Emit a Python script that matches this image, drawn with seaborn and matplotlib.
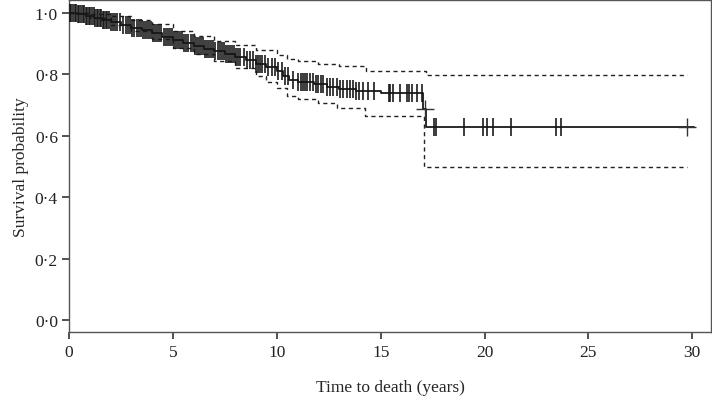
import numpy as np
import pandas as pd
import matplotlib
matplotlib.use("Agg")
import matplotlib.pyplot as plt
import seaborn as sns

# ---- data ----
km_times = [0, 0.4, 0.8, 1.2, 1.6, 2.0, 2.5, 3.0, 3.5, 4.0, 4.5, 5.0, 5.5, 6.0, 6.5,
            7.0, 7.5, 8.0, 8.5, 9.0, 9.5, 10.0, 10.3, 10.6, 11.0, 11.8, 12.4, 13.0,
            13.8, 15.0, 17.05, 17.2, 30.1]
km_surv = [1.0, 0.995, 0.99, 0.983, 0.977, 0.97, 0.962, 0.952, 0.943, 0.933, 0.923,
           0.912, 0.902, 0.893, 0.884, 0.875, 0.866, 0.857, 0.846, 0.835, 0.823, 0.81,
           0.795, 0.782, 0.776, 0.768, 0.76, 0.752, 0.745, 0.738, 0.688, 0.630, 0.630]

upper_times = [0, 1, 2, 3, 4, 5, 6, 7, 8, 9, 10, 10.5, 11, 12, 13, 14.3, 17.2, 29.75]
upper_vals = [1.0, 0.998, 0.99, 0.978, 0.963, 0.942, 0.925, 0.91, 0.895, 0.878, 0.862,
              0.85, 0.842, 0.835, 0.826, 0.81, 0.798, 0.798]

lower_times = [0, 1, 2, 3, 4, 5, 6, 7, 8, 9, 9.5, 10, 10.5, 11, 12, 12.9, 14.25, 17.1, 29.75]
lower_vals = [1.0, 0.985, 0.96, 0.94, 0.915, 0.887, 0.865, 0.845, 0.82, 0.795, 0.776,
              0.755, 0.73, 0.72, 0.707, 0.69, 0.665, 0.497, 0.497]

censor_times = [0.05, 0.12, 0.2, 0.28, 0.35, 0.42, 0.5, 0.58, 0.65, 0.72, 0.8, 0.88, 0.95,
                1.02, 1.1, 1.18, 1.25, 1.33, 1.4, 1.48, 1.55, 1.62, 1.7, 1.78, 1.85, 1.92,
                2.0, 2.1, 2.2, 2.3, 2.45, 2.6, 2.75, 2.85, 2.95, 3.05, 3.15, 3.25, 3.35,
                3.45, 3.55, 3.65, 3.75, 3.85, 3.95, 4.05, 4.15, 4.25, 4.35, 4.45, 4.55,
                4.65, 4.75, 4.85, 4.95, 5.05, 5.15, 5.25, 5.35, 5.45, 5.55, 5.65, 5.75,
                5.85, 5.95, 6.05, 6.15, 6.25, 6.35, 6.45, 6.55, 6.65, 6.75, 6.85, 6.95,
                7.05, 7.15, 7.25, 7.35, 7.45, 7.55, 7.65, 7.75, 7.85, 7.95, 8.05, 8.15,
                8.25, 8.4, 8.55, 8.7, 8.85, 9.0, 9.1, 9.2, 9.3, 9.45, 9.6, 9.75, 9.9,
                10.05, 10.24, 10.4, 10.56, 10.8, 11.04, 11.16, 11.25, 11.36, 11.47, 11.6,
                11.76, 11.89, 12.0, 12.12, 12.24, 12.4, 12.57, 12.73, 12.89, 13.05, 13.2,
                13.37, 13.53, 13.66, 13.82, 13.98, 14.14, 14.41, 14.69, 15.38, 15.46,
                15.59, 15.94, 16.29, 16.38, 16.5, 16.74, 16.98, 17.55, 17.64, 19.02,
                19.92, 20.14, 20.43, 21.27, 23.45, 23.70]
plus_times = [17.12, 29.75]

x_ticks = [0, 5, 10, 15, 20, 25, 30]
y_ticks = [0.0, 0.2, 0.4, 0.6, 0.8, 1.0]
y_tick_labels = ["0·0", "0·2", "0·4", "0·6", "0·8", "1·0"]

# ---- style ----
sns.set_style("ticks")
plt.rcParams.update({
    "font.family": ["Liberation Serif", "DejaVu Serif"],
    "font.size": 12.5,
})

fig = plt.figure(figsize=(7.12, 4.02), dpi=100)
ax = fig.add_axes([69 / 712, 69 / 402, 642 / 712, 332 / 402])

km_t = np.array(km_times)
km_s = np.array(km_surv)

def surv_at(t):
    idx = np.searchsorted(km_t, t, side="right") - 1
    return km_s[idx]

df_km = pd.DataFrame({"t": km_times, "s": km_surv})
df_up = pd.DataFrame({"t": upper_times, "s": upper_vals})
df_lo = pd.DataFrame({"t": lower_times, "s": lower_vals})

sns.lineplot(data=df_up, x="t", y="s", ax=ax, drawstyle="steps-post", color="#222222",
             linewidth=1.0, linestyle=(0, (3, 2.5)), estimator=None, sort=False)
sns.lineplot(data=df_lo, x="t", y="s", ax=ax, drawstyle="steps-post", color="#222222",
             linewidth=1.0, linestyle=(0, (3, 2.5)), estimator=None, sort=False)
sns.lineplot(data=df_km, x="t", y="s", ax=ax, drawstyle="steps-post", color="#1a1a1a",
             linewidth=1.3, estimator=None, sort=False)

c_t = np.array(censor_times)
df_c = pd.DataFrame({"t": c_t, "s": surv_at(c_t)})
sns.scatterplot(data=df_c, x="t", y="s", ax=ax, marker="|", s=150, linewidth=1.3,
                color="#161616", alpha=0.9, zorder=3)
p_t = np.array(plus_times)
df_p = pd.DataFrame({"t": p_t, "s": surv_at(p_t)})
sns.scatterplot(data=df_p, x="t", y="s", ax=ax, marker="+", s=170, linewidth=1.0,
                color="#333333", zorder=3)

ax.set_xlim(0, 30.9)
ax.set_ylim(-0.039, 1.042)
ax.set_xticks(x_ticks)
ax.set_xticklabels([str(v) for v in x_ticks])
ax.set_yticks(y_ticks)
ax.set_yticklabels(y_tick_labels)
ax.set_xlabel("Time to death (years)", fontsize=12.5, labelpad=13)
ax.set_ylabel("Survival probability", fontsize=12.5, labelpad=4)

for sp in ax.spines.values():
    sp.set_visible(True)
    sp.set_color("#555555")
    sp.set_linewidth(1.0)
ax.tick_params(axis="both", which="major", direction="out", bottom=True, left=True,
               top=False, right=False, length=5, width=1.2, color="#333333",
               labelcolor="#222222", labelsize=12.5)
ax.tick_params(axis="x", pad=4)
ax.tick_params(axis="y", pad=3)

fig.savefig("out.png", dpi=100)
